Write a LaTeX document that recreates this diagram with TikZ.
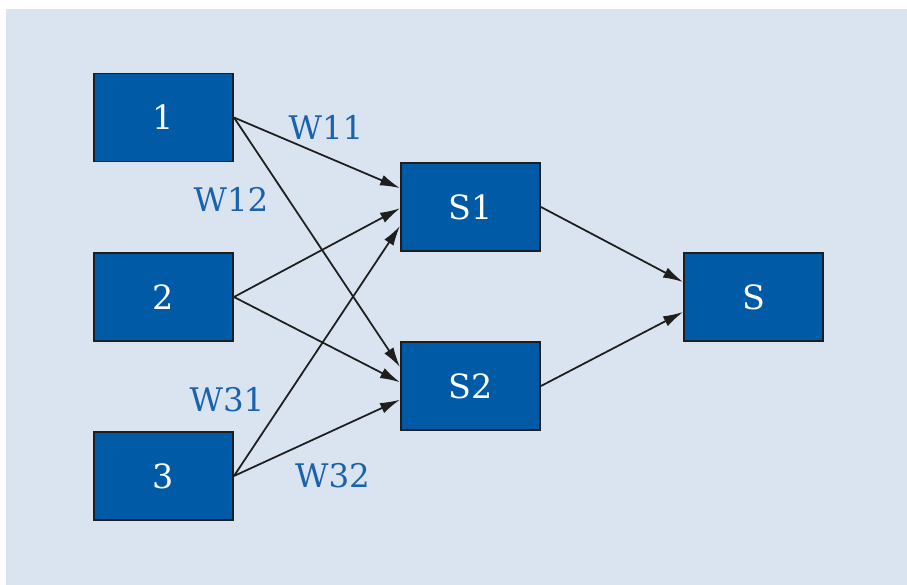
\documentclass[tikz,border=0pt]{standalone}
\usepackage{fontspec}
\setmainfont{DejaVu Serif}
\usepackage{tikz}
\usetikzlibrary{arrows.meta}

\definecolor{bgblue}{RGB}{217,228,240}
\definecolor{boxblue}{RGB}{0,90,165}
\definecolor{wblue}{RGB}{26,98,172}
\definecolor{edgegray}{RGB}{30,30,30}

\begin{document}
\begin{tikzpicture}
			\tikzset{unit/.style = {shape=rectangle,draw=edgegray,line width=1.1pt,fill=boxblue,text=white,minimum width=2.78cm,minimum height=1.76cm,font=\fontsize{19}{21}\selectfont}}
			\tikzset{edge/.style = {-{Latex[length=4mm,width=2.2mm]},line width=1pt,draw=edgegray}}
			\tikzset{wlabel/.style = {text=wblue,font=\fontsize{18.5}{20}\selectfont}}
			% background
			\useasboundingbox (0,0) rectangle (18.14,-11.7);
			\fill[bgblue] (0.12,-0.18) rectangle (18.14,-11.7);
			% vertices
			\node[unit] (n1) at (3.27, -2.35) {1};
			\node[unit] (n2) at (3.27, -5.94) {2};
			\node[unit] (n3) at (3.27, -9.52) {3};
			\node[unit] (s1) at (9.41, -4.14) {S1};
			\node[unit] (s2) at (9.41, -7.72) {S2};
			\node[unit] (s) at (15.07, -5.94) {S};
			% edges
			\draw[edge] (n1.east) -- (s1.165.5);
			\draw[edge] (n1.east) -- (s2.165.5);
			\draw[edge] (n2.east) -- (s1.181.6);
			\draw[edge] (n2.east) -- (s2.177.5);
			\draw[edge] (n3.east) -- (s1.195);
			\draw[edge] (n3.east) -- (s2.191.4);
			\draw[edge] (s1.east) -- (s.168.6);
			\draw[edge] (s2.east) -- (s.192);
			% weights
			\node[wlabel] (w11) at (6.52, -2.55) {W11};
			\node[wlabel] (w12) at (4.62, -3.99) {W12};
			\node[wlabel] (w31) at (4.54, -8.0) {W31};
			\node[wlabel] (w32) at (6.65, -9.52) {W32};
		\end{tikzpicture}
\end{document}
